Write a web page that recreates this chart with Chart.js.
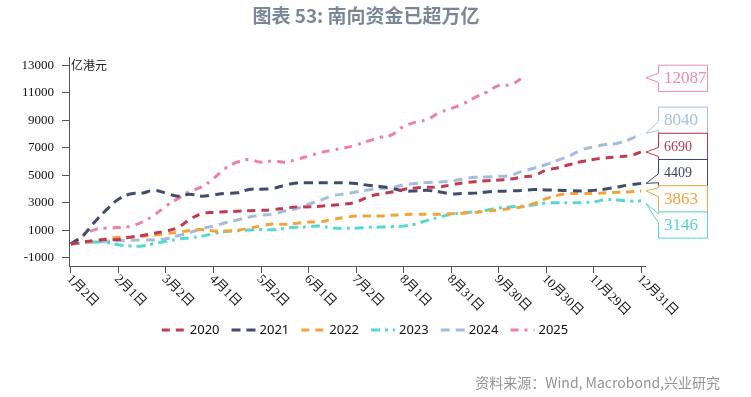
<!DOCTYPE html>
<html>
<head>
<meta charset="utf-8">
<script src="https://cdn.jsdelivr.net/npm/chart.js@4.4.0/dist/chart.umd.min.js"></script>
<style>
  html, body { margin: 0; padding: 0; background: #fff; }
</style>
</head>
<body>
<canvas id="southbound" width="751" height="397"></canvas>
<script>
// x axis tick labels (one per ~30 days)
const xTickLabels = ['1月2日', '2月1日', '3月2日', '4月1日', '5月2日', '6月1日', '7月2日',
    '8月1日', '8月31日', '9月30日', '10月30日', '11月29日', '12月31日'];
// series are sampled every quarter of a tick interval (~1 week)
const STEP = 0.25;
const yTickValues = [-1000, 0, 1000, 2000, 3000, 4000, 5000, 6000, 7000, 8000, 9000, 10000, 11000, 12000, 13000];

const years = ['2020', '2021', '2022', '2023', '2024', '2025'];

// cumulative southbound net inflow, 亿港元
const flow2020 = [0, 150, 260, 320, 330, 500, 620, 780, 950, 1200, 1780, 2200, 2300, 2350, 2380, 2420,
    2450, 2500, 2600, 2700, 2700, 2750, 2820, 2900, 3050, 3420, 3640, 3780, 3970, 4080, 4130, 4150,
    4300, 4440, 4530, 4600, 4650, 4720, 4880, 4990, 5370, 5550, 5780, 6000, 6150, 6260, 6340, 6420, 6690];
const flow2021 = [0, 600, 1600, 2500, 3250, 3640, 3700, 3900, 3700, 3480, 3620, 3480, 3580, 3680, 3720, 3970,
    3990, 4040, 4270, 4430, 4450, 4450, 4450, 4450, 4400, 4270, 4180, 4050, 3860, 3860, 3900, 3800,
    3650, 3680, 3700, 3790, 3830, 3860, 3900, 3960, 3930, 3910, 3880, 3860, 3900, 4000, 4150, 4300, 4409];
const flow2022 = [0, 100, 200, 380, 470, 480, 570, 640, 750, 860, 990, 1050, 950, 940, 1000, 1150,
    1320, 1450, 1430, 1500, 1600, 1620, 1780, 1920, 2030, 2030, 2040, 2090, 2140, 2170, 2170, 2170,
    2200, 2240, 2300, 2400, 2480, 2580, 2700, 2950, 3300, 3550, 3670, 3670, 3680, 3720, 3760, 3790, 3863];
const flow2023 = [0, 60, 150, 110, -60, -140, -140, 30, 200, 340, 450, 560, 750, 900, 960, 1010,
    1060, 1030, 1140, 1220, 1260, 1300, 1160, 1140, 1150, 1210, 1230, 1260, 1300, 1450, 1720, 1950,
    2150, 2280, 2330, 2460, 2620, 2700, 2750, 2860, 2980, 3000, 3000, 3010, 3060, 3220, 3200, 3120, 3146];
const flow2024 = [0, 80, 150, 200, 240, 270, 290, 290, 380, 600, 830, 1120, 1300, 1550, 1740, 1960,
    2100, 2170, 2400, 2580, 2900, 3180, 3500, 3650, 3780, 3930, 4030, 4100, 4300, 4400, 4470, 4510,
    4570, 4740, 4850, 4880, 4920, 4990, 5300, 5520, 5780, 6100, 6420, 6860, 7060, 7230, 7330, 7600, 8040];
const flow2025 = [0, 600, 1050, 1170, 1200, 1280, 1600, 2100, 2750, 3300, 3830, 4150, 4760, 5500, 5950, 6140,
    5950, 6050, 5950, 6150, 6400, 6650, 6820, 6990, 7200, 7480, 7750, 7930, 8550, 8850, 9050, 9550,
    9850, 10200, 10650, 11050, 11520, 11580, 12087];

const seriesValues = [flow2020, flow2021, flow2022, flow2023, flow2024, flow2025];

// styles
const lineColors = ['#C23A52', '#414B6B', '#F2A33A', '#55D8D2', '#A3BDDD', '#EE80A4'];
const calloutColors = ['#B8374F', '#3E4766', '#F0A53C', '#55D6D0', '#A6C0DE', '#EC8CA8'];
const lineDashes = [[8, 6], [9, 6], [8, 6], [9, 5, 3, 5], [9, 6], [8, 6, 3, 6]];

const datasets = years.map((yr, i) => ({
    label: yr,
    data: seriesValues[i].map((v, k) => ({ x: k * STEP, y: v })),
    borderColor: lineColors[i],
    borderWidth: 3,
    borderDash: lineDashes[i],
    pointRadius: 0,
    tension: 0.4,
    fill: false
}));

const decorations = {
    id: 'decorations',
    afterDraw(chart) {
        const ctx = chart.ctx;
        const area = chart.chartArea;
        const xs = chart.scales.x;
        const ys = chart.scales.y;
        ctx.save();

        // title
        ctx.fillStyle = '#7B8798';
        ctx.font = 'bold 19px "Noto Sans CJK SC"';
        ctx.textAlign = 'center';
        ctx.textBaseline = 'middle';
        ctx.fillText('图表 53: 南向资金已超万亿', 366, 16);

        // unit
        ctx.fillStyle = '#222';
        ctx.font = '12px "Noto Sans CJK SC"';
        ctx.textAlign = 'left';
        ctx.fillText('亿港元', area.left + 2, 65);

        // rotated x labels
        ctx.font = '13px "Liberation Serif", "Noto Sans CJK SC"';
        ctx.fillStyle = '#111';
        xTickLabels.forEach((lab, i) => {
            const px = xs.getPixelForValue(i);
            ctx.save();
            ctx.translate(px - 2, area.bottom + 11);
            ctx.rotate(Math.PI / 4);
            ctx.textAlign = 'left';
            ctx.textBaseline = 'middle';
            ctx.fillText(lab, 0, 0);
            ctx.restore();
        });

        // legend
        ctx.font = '13px "Noto Sans", sans-serif';
        const sample = 24, gap = 4, spacing = 12;
        const widths = years.map(y => sample + gap + ctx.measureText(y).width);
        const total = widths.reduce((a, b) => a + b, 0) + spacing * (years.length - 1);
        let lx = 365 - total / 2;
        const ly = 330;
        years.forEach((yr, i) => {
            ctx.strokeStyle = lineColors[i];
            ctx.lineWidth = 3;
            ctx.setLineDash(lineDashes[i]);
            ctx.beginPath();
            ctx.moveTo(lx, ly);
            ctx.lineTo(lx + sample, ly);
            ctx.stroke();
            ctx.setLineDash([]);
            ctx.fillStyle = '#111';
            ctx.textAlign = 'left';
            ctx.textBaseline = 'middle';
            ctx.fillText(yr, lx + sample + gap, ly);
            lx += widths[i] + spacing;
        });

        // end-value callouts
        const boxH = 26.2, boxW = 49;
        const boxLeft = area.right + 13;
        const items = seriesValues.map((vals, i) => {
            const v = vals[vals.length - 1];
            return { i, v, desired: ys.getPixelForValue(v) };
        }).sort((a, b) => a.desired - b.desired);
        let groups = items.map(it => ({ items: [it], center: it.desired }));
        let merged = true;
        while (merged) {
            merged = false;
            for (let g = 0; g < groups.length - 1; g++) {
                const a = groups[g], b = groups[g + 1];
                const aBottom = a.center + a.items.length * boxH / 2;
                const bTop = b.center - b.items.length * boxH / 2;
                if (aBottom > bTop) {
                    const all = a.items.concat(b.items);
                    const c = all.reduce((s, it) => s + it.desired, 0) / all.length;
                    groups.splice(g, 2, { items: all, center: c });
                    merged = true;
                    break;
                }
            }
        }
        groups.forEach(g => {
            const top0 = g.center - g.items.length * boxH / 2;
            g.items.forEach((it, j) => {
                const top = top0 + j * boxH;
                const bottom = top + boxH;
                const col = calloutColors[it.i];
                ctx.fillStyle = '#fff';
                ctx.fillRect(boxLeft, top, boxW, boxH);
                ctx.strokeStyle = col;
                ctx.lineWidth = 1;
                ctx.strokeRect(boxLeft + 0.5, top + 0.5, boxW, boxH);
                const tipY = Math.min(Math.max(it.desired, top - 8), bottom + 8);
                const baseY = Math.min(Math.max(tipY, top + 7), bottom - 7);
                const tipX = area.right + 1;
                ctx.fillStyle = '#fff';
                ctx.beginPath();
                ctx.moveTo(boxLeft + 0.5, baseY - 4.5);
                ctx.lineTo(tipX, tipY);
                ctx.lineTo(boxLeft + 0.5, baseY + 4.5);
                ctx.closePath();
                ctx.fill();
                ctx.fillRect(boxLeft - 1, baseY - 4.5, 3, 9);
                ctx.beginPath();
                ctx.moveTo(boxLeft + 0.5, baseY - 4.5);
                ctx.lineTo(tipX, tipY);
                ctx.lineTo(boxLeft + 0.5, baseY + 4.5);
                ctx.stroke();
                const small = it.i === 0 || it.i === 1;
                ctx.fillStyle = col;
                ctx.font = (small ? '14px' : '17px') + ' "Liberation Serif"';
                ctx.textAlign = 'left';
                ctx.textBaseline = 'middle';
                ctx.fillText(String(it.v), boxLeft + 6, top + boxH / 2 + 1);
            });
        });

        // source
        ctx.fillStyle = '#939393';
        ctx.font = '14px "Noto Sans CJK SC"';
        ctx.textAlign = 'right';
        ctx.textBaseline = 'middle';
        ctx.fillText('资料来源：Wind, Macrobond,兴业研究', 720, 383);
        ctx.restore();
    }
};

new Chart(document.getElementById('southbound'), {
    type: 'line',
    data: { datasets },
    options: {
        responsive: false,
        animation: false,
        devicePixelRatio: 1,
        layout: { padding: { left: 0, right: 106, top: 57, bottom: 0 } },
        plugins: {
            legend: { display: false },
            title: { display: false },
            tooltip: { enabled: false }
        },
        scales: {
            x: {
                type: 'linear',
                min: -0.04,
                max: 12.08,
                afterBuildTicks: axis => { axis.ticks = xTickLabels.map((_, i) => ({ value: i })); },
                afterFit: axis => { axis.height = 131; },
                ticks: { display: false },
                grid: { drawOnChartArea: false, drawTicks: true, tickLength: 7, color: '#555' },
                border: { color: '#555', width: 1 }
            },
            y: {
                min: -1600,
                max: 13600,
                afterBuildTicks: axis => { axis.ticks = yTickValues.map(v => ({ value: v })); },
                afterFit: axis => { axis.width = 69; },
                ticks: {
                    color: '#111',
                    padding: 8,
                    font: { family: '"Liberation Serif"', size: 13 },
                    callback: v => (Math.abs(v / 1000) % 2 === 1 ? String(v) : '')
                },
                grid: { drawOnChartArea: false, drawTicks: true, tickLength: 7, color: '#555' },
                border: { color: '#555', width: 1 }
            }
        }
    },
    plugins: [decorations]
});
</script>
</body>
</html>
